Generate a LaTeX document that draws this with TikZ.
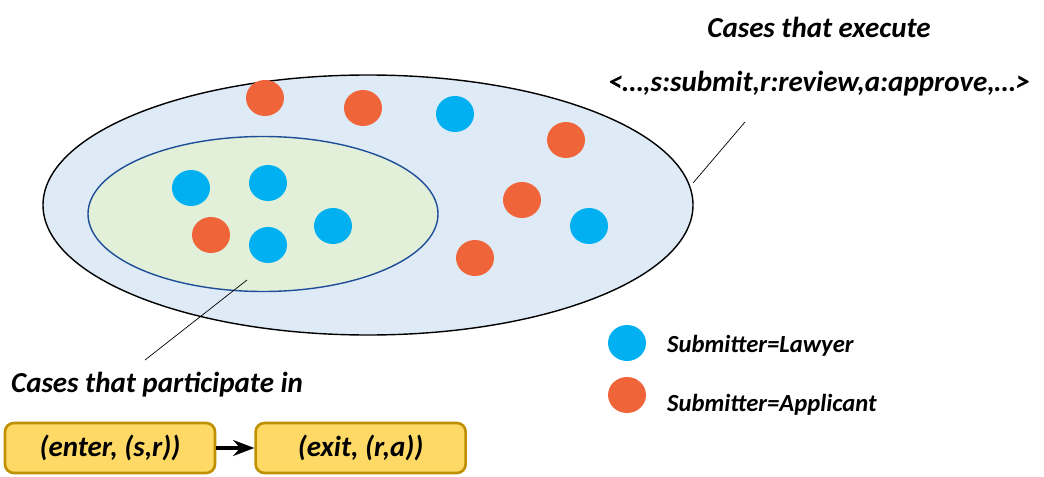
\documentclass[tikz,border=0pt]{standalone}
\usepackage{fontspec}
\setmainfont{Carlito}
\usetikzlibrary{arrows.meta, positioning, shapes.geometric}
\definecolor{SetBlue}{HTML}{DEEBF7}
\definecolor{SetGreen}{HTML}{E2F0D9}
\definecolor{EdgeBlue}{HTML}{1F4E99}
\definecolor{DotBlue}{HTML}{00B0F0}
\definecolor{DotOrange}{HTML}{F0643A}
\definecolor{BoxGold}{HTML}{FFD966}
\definecolor{BoxEdge}{HTML}{BF9000}
\tikzset{
    lawyer/.style={ellipse, fill=DotBlue, minimum width=0.76cm, minimum height=0.72cm, inner sep=0pt},
    applicant/.style={ellipse, fill=DotOrange, minimum width=0.76cm, minimum height=0.72cm, inner sep=0pt},
    label/.style={font=\bfseries\itshape\fontsize{16.5}{19}\selectfont},
    legendlabel/.style={anchor=west, font=\bfseries\itshape\fontsize{14}{16}\selectfont},
    patternbox/.style={rectangle, rounded corners=5pt, fill=BoxGold, draw=BoxEdge, line width=1.5pt,
          minimum width=4.2cm, minimum height=1.0cm, font=\bfseries\itshape\fontsize{16.5}{19}\selectfont}
}
\begin{document}
\begin{tikzpicture}
    \useasboundingbox (0,0) rectangle (20.88,9.52);
    % Sets
    \node[ellipse, draw=black, fill=SetBlue, line width=0.8pt,
          minimum width=13.0cm, minimum height=5.2cm] (all) at (7.36,5.42) {};
    \node[ellipse, draw=EdgeBlue, fill=SetGreen, line width=0.8pt,
          minimum width=7.0cm, minimum height=3.1cm] (part) at (5.26,5.24) {};

    % Cases
    \node[lawyer] (b1) at (9.10,7.24) {};
    \node[lawyer] (b2) at (3.82,5.76) {};
    \node[lawyer] (b3) at (5.36,5.86) {};
    \node[lawyer] (b4) at (6.66,5.00) {};
    \node[lawyer] (b5) at (5.36,4.62) {};
    \node[lawyer] (b6) at (11.78,5.00) {};
    \node[applicant] (o1) at (5.30,7.56) {};
    \node[applicant] (o2) at (7.26,7.36) {};
    \node[applicant] (o3) at (11.32,6.72) {};
    \node[applicant] (o4) at (10.44,5.52) {};
    \node[applicant] (o5) at (4.22,4.82) {};
    \node[applicant] (o6) at (9.50,4.36) {};

    % Labels
    \node[label] (exec) at (16.38,8.98) {Cases that execute};
    \node[label] (trace) at (16.38,7.84) {<…,s:submit,r:review,a:approve,…>};
    \coordinate (c1) at (14.90,7.08);
    \coordinate (c2) at (13.86,5.86);
    \draw (c2) -- (c1);
    \node[label, anchor=west] (partlbl) at (0.10,1.82) {Cases that participate in};
    \coordinate (c3) at (4.94,3.92);
    \coordinate (c4) at (2.90,2.32);
    \draw (c3) -- (c4);

    % Legend
    \node[lawyer] (lb) at (12.54,2.66) {};
    \node[applicant] (lo) at (12.54,1.62) {};
    \node[legendlabel] at (13.22,2.60) {Submitter=Lawyer};
    \node[legendlabel] at (13.22,1.42) {Submitter=Applicant};

    % Pattern
    \node[patternbox] (enter) at (2.20,0.56) {(enter, (s,r))};
    \node[patternbox, right=0.76cm of enter] (exit) {(exit, (r,a))};
    \draw[-{Stealth}, line width=2pt] (enter) -- (exit);
\end{tikzpicture}
\end{document}
